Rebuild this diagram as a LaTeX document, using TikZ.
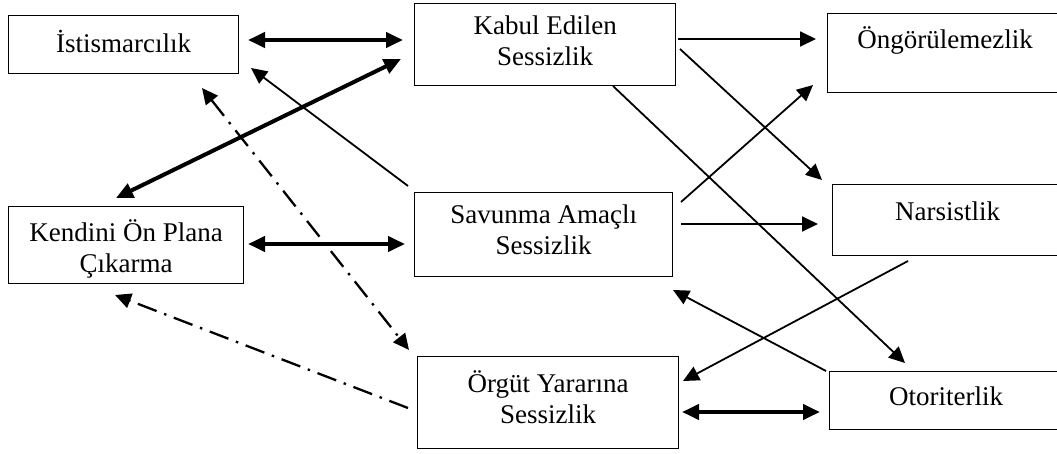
\documentclass[tikz,border=0pt]{standalone}
\usepackage{fontspec}
\setmainfont{Liberation Serif}
\usetikzlibrary{arrows.meta,calc}
\begin{document}
\begin{tikzpicture}[x=1pt,y=-1pt,
  box/.style={draw, line width=1.3pt, anchor=north west, inner sep=0pt},
  txt/.style={anchor=north, inner sep=0pt, align=center,
    font=\fontsize{27}{31}\selectfont, execute at begin node=\strut},
  tipA/.tip={Triangle[length=16pt,width=15pt]},
  tipB/.tip={Triangle[length=17pt,width=15pt]},
  thinarr/.style={line width=1.8pt, -tipA},
  thickarr/.style={line width=4pt, tipB-tipB},
  dasharr/.style={line width=2.3pt, dash pattern=on 20pt off 8pt on 2.5pt off 8pt}]
\clip (0,0) rectangle (1057,453);
\useasboundingbox (0,0) rectangle (1057,453);
% boxes
\node[box, minimum width=230pt, minimum height=58pt] (ist) at (8,15) {};
\node[box, minimum width=261pt, minimum height=82pt] (kabul) at (414,3) {};
\node[box, minimum width=235pt, minimum height=79pt] (ong) at (827,13) {};
\node[box, minimum width=235pt, minimum height=77pt] (kend) at (8,206) {};
\node[box, minimum width=258pt, minimum height=84pt] (sav) at (414,192) {};
\node[box, minimum width=230pt, minimum height=71pt] (nar) at (832,184) {};
\node[box, minimum width=261pt, minimum height=92pt] (org) at (417,356) {};
\node[box, minimum width=233pt, minimum height=58pt] (oto) at (829,371) {};
% texts
\node[txt] (ist-t) at ($(ist.north)+(0,15)$) {İstismarcılık};
\node[txt] (kabul-t) at ($(kabul.north)+(0,12.3)$) {Kabul Edilen\\Sessizlik};
\node[txt] (ong-t) at ($(ong.north)+(0,13.3)$) {Öngörülemezlik};
\node[txt] (kend-t) at ($(kend.north)+(0,13)$) {Kendini Ön Plana\\Çıkarma};
\node[txt] (sav-t) at ($(sav.north)+(0,12.3)$) {Savunma Amaçlı\\Sessizlik};
\node[txt] (nar-t) at ($(nar.north)+(0,14.3)$) {Narsistlik};
\node[txt] (org-t) at ($(org.north)+(0,14)$) {Örgüt Yararına\\Sessizlik};
\node[txt] (oto-t) at ($(oto.north)+(0,12.3)$) {Otoriterlik};
% connectors
\draw[thickarr] ($(ist.north west)+(240,25)$) -- ($(kabul.north west)+(-11,37)$);
\draw[thinarr] ($(kabul.north west)+(264,36)$) -- ($(ong.north west)+(-11,26)$);
\draw[thinarr] ($(kabul.north west)+(266,46)$) -- ($(nar.north west)+(-10,-4)$);
\draw[thinarr] ($(kabul.north west)+(199,83)$) -- ($(oto.north west)+(76,-8)$);
\draw[thinarr] ($(sav.north west)+(267,10)$) -- ($(ong.north west)+(-14,72)$);
\draw[thinarr] ($(sav.north west)+(267,32)$) -- ($(nar.north west)+(-14,40)$);
\draw[thinarr] ($(sav.north west)+(-6,-6)$) -- ($(ist.north west)+(243,53)$);
\draw[thickarr] ($(kend.north west)+(108,-8)$) -- ($(kabul.north west)+(-13,56)$);
\draw[thickarr] ($(kend.north west)+(240,38)$) -- ($(sav.north west)+(-9,52)$);
\draw[dasharr, tipA-tipA] ($(ist.north west)+(194,73)$) -- ($(org.north west)+(-8,-6)$);
\draw[dasharr, -tipA] ($(org.north west)+(-9,52)$) -- ($(kend.north west)+(107,89)$);
\draw[thinarr] ($(nar.north west)+(76,77)$) -- ($(org.north west)+(266,25)$);
\draw[thinarr] ($(oto.north west)+(-3,0)$) -- ($(sav.north west)+(259,98)$);
\draw[thickarr] ($(org.north west)+(265,56)$) -- ($(oto.north west)+(-9,41)$);
\end{tikzpicture}
\end{document}
